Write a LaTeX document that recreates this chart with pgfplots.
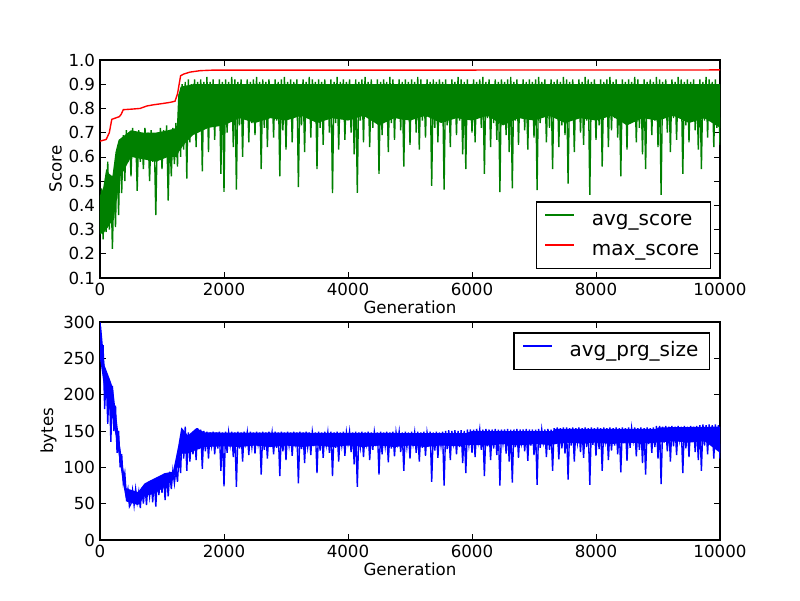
\documentclass[border=0pt]{standalone}
\usepackage{fontspec}
\setmainfont{DejaVu Sans}
\usepackage{pgfplots}
\usepackage{pgfplotstable}
\pgfplotsset{compat=1.18}
\definecolor{mgreen}{rgb}{0,0.5,0}

\pgfplotstableread[row sep=\\]{y\\
0.30\\0.47\\0.26\\0.45\\0.29\\0.58\\0.30\\0.52\\0.22\\0.50\\0.31\\0.62\\0.36\\0.67\\0.45\\0.69\\0.50\\0.71\\0.58\\0.70\\
0.52\\0.72\\0.60\\0.70\\0.46\\0.71\\0.58\\0.69\\0.55\\0.72\\0.62\\0.70\\0.50\\0.71\\0.58\\0.68\\0.36\\0.70\\0.60\\0.72\\
0.55\\0.71\\0.60\\0.73\\0.42\\0.70\\0.52\\0.72\\0.57\\0.74\\0.56\\0.86\\0.60\\0.90\\0.63\\0.91\\0.51\\0.92\\0.66\\0.90\\
0.70\\0.92\\0.64\\0.91\\0.75\\0.92\\0.54\\0.91\\0.72\\0.93\\0.62\\0.91\\0.78\\0.92\\0.67\\0.90\\0.74\\0.92\\0.53\\0.91\\
0.456\\0.92\\0.70\\0.91\\0.77\\0.93\\0.64\\0.92\\0.465\\0.91\\0.73\\0.92\\0.60\\0.90\\0.79\\0.92\\0.66\\0.91\\0.74\\0.92\\
0.69\\0.93\\0.78\\0.91\\0.55\\0.92\\0.72\\0.91\\0.64\\0.92\\0.80\\0.90\\0.68\\0.92\\0.75\\0.91\\0.52\\0.92\\0.71\\0.93\\
0.63\\0.91\\0.77\\0.92\\0.66\\0.91\\0.79\\0.92\\0.475\\0.90\\0.73\\0.92\\0.62\\0.91\\0.76\\0.93\\0.68\\0.92\\0.80\\0.91\\
0.55\\0.92\\0.72\\0.91\\0.65\\0.92\\0.78\\0.90\\0.70\\0.92\\0.45\\0.91\\0.74\\0.93\\0.63\\0.91\\0.77\\0.92\\0.67\\0.91\\
0.79\\0.92\\0.70\\0.90\\0.61\\0.92\\0.452\\0.91\\0.75\\0.92\\0.66\\0.93\\0.78\\0.91\\0.64\\0.92\\0.72\\0.90\\0.80\\0.92\\
0.53\\0.91\\0.69\\0.92\\0.76\\0.91\\0.62\\0.93\\0.74\\0.92\\0.67\\0.90\\0.79\\0.92\\0.71\\0.91\\0.56\\0.92\\0.76\\0.91\\
0.65\\0.92\\0.78\\0.91\\0.70\\0.93\\0.63\\0.92\\0.75\\0.90\\0.68\\0.92\\0.80\\0.91\\0.48\\0.92\\0.72\\0.91\\0.66\\0.92\\
0.77\\0.91\\0.465\\0.92\\0.73\\0.90\\0.64\\0.92\\0.79\\0.91\\0.69\\0.93\\0.75\\0.92\\0.61\\0.91\\0.55\\0.92\\0.78\\0.90\\
0.70\\0.92\\0.66\\0.91\\0.80\\0.92\\0.72\\0.93\\0.53\\0.91\\0.76\\0.92\\0.64\\0.90\\0.74\\0.92\\0.67\\0.91\\0.455\\0.92\\
0.78\\0.91\\0.69\\0.92\\0.62\\0.93\\0.47\\0.91\\0.75\\0.92\\0.65\\0.90\\0.79\\0.92\\0.71\\0.91\\0.63\\0.92\\0.77\\0.91\\
0.68\\0.92\\0.463\\0.93\\0.74\\0.91\\0.80\\0.92\\0.66\\0.90\\0.72\\0.92\\0.55\\0.91\\0.78\\0.92\\0.64\\0.91\\0.73\\0.93\\
0.69\\0.92\\0.49\\0.91\\0.76\\0.92\\0.62\\0.90\\0.79\\0.92\\0.70\\0.91\\0.65\\0.93\\0.75\\0.92\\0.443\\0.91\\0.77\\0.92\\
0.67\\0.90\\0.73\\0.92\\0.56\\0.91\\0.79\\0.92\\0.64\\0.93\\0.71\\0.91\\0.76\\0.92\\0.68\\0.90\\0.52\\0.92\\0.78\\0.91\\
0.63\\0.92\\0.74\\0.91\\0.80\\0.93\\0.66\\0.92\\0.72\\0.90\\0.61\\0.92\\0.55\\0.91\\0.77\\0.92\\0.69\\0.91\\0.75\\0.93\\
0.64\\0.92\\0.443\\0.91\\0.78\\0.92\\0.70\\0.90\\0.62\\0.92\\0.76\\0.91\\0.67\\0.93\\0.80\\0.92\\0.53\\0.91\\0.73\\0.92\\
0.66\\0.91\\0.79\\0.92\\0.71\\0.90\\0.63\\0.92\\0.55\\0.91\\0.75\\0.93\\0.68\\0.92\\0.78\\0.91\\0.64\\0.92\\0.72\\0.90\\
0.65\\
}\greendata

\pgfplotstableread[row sep=\\]{y\\
300\\245\\268\\180\\228\\160\\220\\135\\212\\150\\185\\120\\150\\100\\118\\80\\92\\60\\70\\46\\
50\\68\\48\\70\\52\\66\\44\\72\\50\\76\\48\\80\\60\\82\\52\\84\\46\\86\\62\\88\\
65\\90\\55\\92\\60\\94\\70\\95\\78\\98\\80\\118\\92\\152\\112\\156\\95\\148\\108\\146\\
118\\150\\110\\154\\125\\152\\98\\150\\122\\149\\112\\148\\130\\149\\118\\148\\126\\149\\95\\148\\
74\\149\\120\\148\\131\\149\\114\\148\\73\\149\\126\\148\\108\\149\\133\\148\\117\\149\\128\\148\\
119\\149\\132\\148\\90\\149\\124\\148\\112\\149\\134\\148\\118\\149\\127\\148\\88\\149\\122\\148\\
110\\149\\130\\148\\116\\149\\133\\148\\78\\149\\125\\148\\106\\149\\128\\148\\117\\149\\134\\148\\
92\\149\\123\\148\\113\\149\\131\\148\\120\\149\\88\\148\\127\\149\\108\\148\\130\\149\\116\\148\\
133\\149\\121\\148\\104\\149\\73\\148\\128\\149\\114\\148\\132\\149\\110\\148\\124\\149\\134\\148\\
90\\149\\118\\148\\129\\149\\107\\148\\126\\149\\115\\148\\133\\149\\121\\148\\95\\149\\128\\148\\
112\\149\\132\\148\\120\\149\\108\\148\\127\\149\\116\\148\\134\\149\\80\\148\\123\\149\\113\\148\\
130\\149\\75\\150\\125\\151\\110\\150\\133\\151\\118\\150\\128\\151\\106\\150\\92\\152\\131\\152\\
120\\152\\114\\153\\135\\152\\124\\152\\88\\153\\129\\152\\110\\152\\126\\153\\117\\152\\75\\152\\
133\\152\\119\\153\\108\\152\\79\\152\\128\\153\\113\\152\\134\\152\\122\\153\\109\\152\\130\\152\\
117\\152\\76\\153\\127\\152\\135\\152\\114\\153\\124\\152\\95\\154\\132\\155\\111\\154\\126\\155\\
119\\155\\83\\154\\130\\155\\108\\154\\134\\155\\121\\154\\113\\155\\128\\154\\76\\155\\131\\154\\
116\\155\\125\\154\\95\\155\\136\\154\\110\\155\\123\\154\\130\\155\\118\\154\\93\\155\\133\\154\\
109\\155\\127\\154\\137\\155\\115\\154\\124\\155\\106\\154\\90\\155\\132\\154\\120\\155\\128\\157\\
112\\157\\77\\156\\134\\157\\122\\156\\108\\157\\129\\156\\117\\157\\138\\156\\92\\157\\126\\156\\
114\\157\\135\\156\\121\\157\\110\\158\\95\\159\\130\\158\\118\\159\\136\\158\\112\\159\\125\\158\\
112\\
}\bluedata

\pgfplotsset{
  /pgf/number format/assume math mode=true,
  myax/.style={
    scale only axis, width=446.4pt, height=156.96pt,
    xmin=0, xmax=10000, xtick={0,2000,...,10000},
    scaled x ticks=false, scaled y ticks=false,
    xticklabel style={/pgf/number format/.cd,fixed,1000 sep={}},
    tick align=inside, major tick length=4pt,
    every tick/.style={black, line width=0.5pt},
    axis line style={line width=1pt},
    tick label style={font=\fontsize{12}{14.4}\selectfont},
    label style={font=\fontsize{12}{14.4}\selectfont},
    xlabel={Generation},
    xlabel style={yshift=3pt},
    ylabel shift=-2pt,
    legend cell align=left,
    legend image code/.code={\draw[##1] (0pt,3.8pt) -- (21pt,3.8pt);},
    legend style={draw=black, line width=1pt, fill=white,
      font=\fontsize{14.4}{17.28}\selectfont,
      inner xsep=6pt, inner ysep=4pt, row sep=3.6pt, column sep=10pt,
      nodes={inner xsep=2pt, inner ysep=2pt, text height=10.5pt, text depth=3.5pt}},
  }
}

\begin{document}
\begin{tikzpicture}
\path[use as bounding box] (0,0) rectangle (576pt,432pt);
\begin{axis}[myax, at={(72pt,231.84pt)}, anchor=south west,
  ymin=0.1, ymax=1.0, ytick={0.1,0.2,...,1.0},
  yticklabel style={/pgf/number format/.cd,fixed,fixed zerofill,precision=1},
  ylabel={Score},
  legend style={at={(1,0)}, anchor=south east, xshift=-6.5pt, yshift=6.5pt}]
\addplot[fill=mgreen, draw=none, forget plot] coordinates {
(0,0.44)(50,0.47)(100,0.55)(150,0.53)(200,0.52)(250,0.62)(300,0.67)(400,0.69)(500,0.71)(700,0.70)(900,0.70)(1100,0.71)(1240,0.72)(1260,0.85)(1300,0.89)(1500,0.90)(10000,0.90)
(10000,0.72)(9750,0.76)(9500,0.74)(9250,0.77)(9000,0.75)(8750,0.76)(8500,0.73)(8250,0.77)(8000,0.75)(7750,0.76)(7500,0.74)(7250,0.77)(7000,0.75)(6750,0.76)(6500,0.73)(6250,0.77)(6000,0.75)(5750,0.76)(5500,0.74)(5250,0.77)(5000,0.75)(4750,0.76)(4500,0.73)(4250,0.77)(4000,0.75)(3750,0.76)(3500,0.74)(3250,0.77)(3000,0.75)(2750,0.76)(2500,0.74)(2250,0.76)(2000,0.73)(1750,0.72)(1500,0.69)(1350,0.65)(1270,0.62)(1240,0.60)(1100,0.60)(900,0.58)(700,0.59)(500,0.60)(400,0.55)(330,0.52)(280,0.44)(230,0.36)(180,0.33)(130,0.31)(70,0.29)(0,0.28)
} -- cycle;
\addplot[mgreen, line width=1pt] table[x expr=\coordindex*25, y=y] {\greendata};
\addlegendentry{avg\_score}
\addplot[red, line width=1pt] coordinates {
(0,0.665)(100,0.672)(150,0.70)(190,0.755)(310,0.766)(340,0.775)(376,0.795)(500,0.797)(645,0.80)(700,0.805)(753,0.81)(860,0.815)(1000,0.82)(1129,0.825)(1210,0.83)(1250,0.86)(1300,0.935)(1350,0.942)(1450,0.95)(1613,0.956)(1800,0.958)(10000,0.959)};
\addlegendentry{max\_score}
\end{axis}
\begin{axis}[myax, at={(72pt,43.2pt)}, anchor=south west,
  ymin=0, ymax=300, ytick={0,50,...,300},
  ylabel={bytes},
  legend style={at={(1,1)}, anchor=north east, xshift=-7pt, yshift=-7.5pt}]
\addplot[fill=blue, draw=none, forget plot] coordinates {
(0,300)(20,293)(75,240)(156,222)(210,209)(263,170)(317,133)(371,101)(425,71)(505,69)(613,66)(720,78)(882,85)(1043,92)(1177,94)(1258,128)(1312,155)(1419,144)(1554,154)(1688,148)(5900,147)(6000,150)(7300,150)(7350,153)(8980,153)(9000,155)(10000,156)
(10000,120)(9750,136)(9500,134)(9250,136)(9000,134)(8750,133)(8500,134)(8250,132)(8000,134)(7750,133)(7500,134)(7250,131)(7000,132)(6750,130)(6500,132)(6250,130)(6000,131)(5750,129)(5500,130)(5250,128)(5000,130)(4750,128)(4500,130)(4250,128)(4000,130)(3750,128)(3500,130)(3250,128)(3000,130)(2750,128)(2500,130)(2250,128)(2000,129)(1688,128)(1554,124)(1419,119)(1312,119)(1258,101)(1177,83)(1043,73)(882,64)(720,60)(613,48)(505,51)(425,53)(371,78)(317,110)(263,138)(210,165)(156,179)(75,205)(20,238)(0,250)
} -- cycle;
\addplot[blue, line width=1pt] table[x expr=\coordindex*25, y=y] {\bluedata};
\addlegendentry{avg\_prg\_size}
\end{axis}
\end{tikzpicture}
\end{document}
